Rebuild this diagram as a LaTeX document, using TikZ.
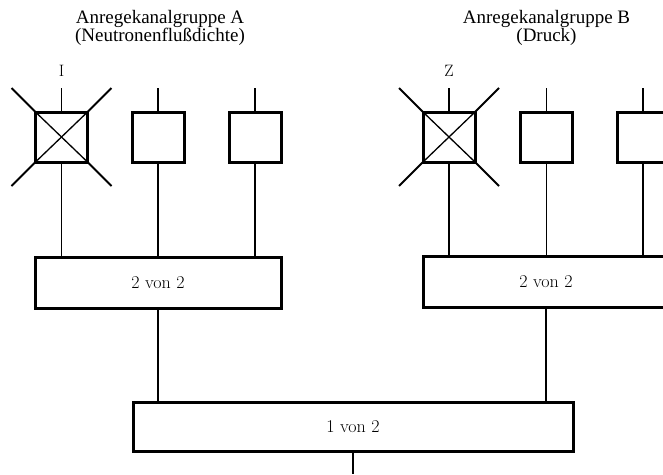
\documentclass[tikz,border=0pt]{standalone}
\usepackage{fontspec}
\newfontfamily\titlefont{Liberation Serif}
\usetikzlibrary{calc}
\tikzset{
  sq/.style={draw, line width=3pt, minimum width=52pt, minimum height=50pt, inner sep=0pt, outer sep=0pt},
  grp/.style={draw, line width=3pt, minimum width=246pt, minimum height=51pt, inner sep=0pt, outer sep=0pt, font=\fontsize{18}{20}\selectfont},
  wire/.style={line width=1.3pt},
  diag/.style={line width=1.9pt},
  cross/.style={line width=1.3pt},
  title/.style={font=\titlefont\fontsize{19}{18}\selectfont, align=center},
  lbl/.style={font=\fontsize{16.5}{18}\selectfont}
}
\begin{document}
\begin{tikzpicture}[x=1pt,y=-1pt]
\useasboundingbox (0,0) rectangle (663,474);
\clip (0,0) rectangle (663,474);
% titles
\node[title] (tA) at (160,28) {Anregekanalgruppe A\\(Neutronenflußdichte)};
\node[title] (tB) at (546.5,28) {Anregekanalgruppe B\\(Druck)};
\node[lbl] (lI) at (61.5,71) {I};
\node[lbl] (lZ) at (449,71) {Z};
% squares
\node[sq] (A1) at (61.5,137) {};
\node[sq] (A2) at (158,137) {};
\node[sq] (A3) at (255,137) {};
\node[sq] (B1) at (449,137) {};
\node[sq] (B2) at (546.5,137) {};
\node[sq] (B3) at (643,137) {};
% group boxes
\node[grp] (gA) at (158,282.5) {2 von 2};
\node[grp] (gB) at (546,282) {2 von 2};
\node[grp, minimum width=440pt, minimum height=49pt] (top) at (353,426.5) {1 von 2};
% free ends
\foreach \n in {A1,A2,A3,B1,B2,B3}{
  \coordinate (\n t) at ($(\n.north)+(0,-24)$);
  \draw[wire] (\n t) -- (\n.north);
  \draw[wire] (\n.south) -- (\n.south |- gA.north);
}
% crossed boxes
\foreach \n in {A1,B1}{
  \draw[cross] (\n.north west) -- (\n.south east);
  \draw[cross] (\n.south west) -- (\n.north east);
  \coordinate (\n ul) at ($(\n.center)+(-50,-49)$);
  \coordinate (\n ur) at ($(\n.center)+(50,-49)$);
  \coordinate (\n ll) at ($(\n.center)+(-50,49)$);
  \coordinate (\n lr) at ($(\n.center)+(50,49)$);
  \draw[diag] (\n ul) -- (\n.north west);
  \draw[diag] (\n ur) -- (\n.north east);
  \draw[diag] (\n ll) -- (\n.south west);
  \draw[diag] (\n lr) -- (\n.south east);
}
% group to top
\draw[wire] (gA.south) -- (gA.south |- top.north);
\draw[wire] (gB.south) -- (gB.south |- top.north);
\coordinate (out) at (top.south |- 0,474);
\draw[line width=2pt] (top.south) -- (out);
\end{tikzpicture}
\end{document}
